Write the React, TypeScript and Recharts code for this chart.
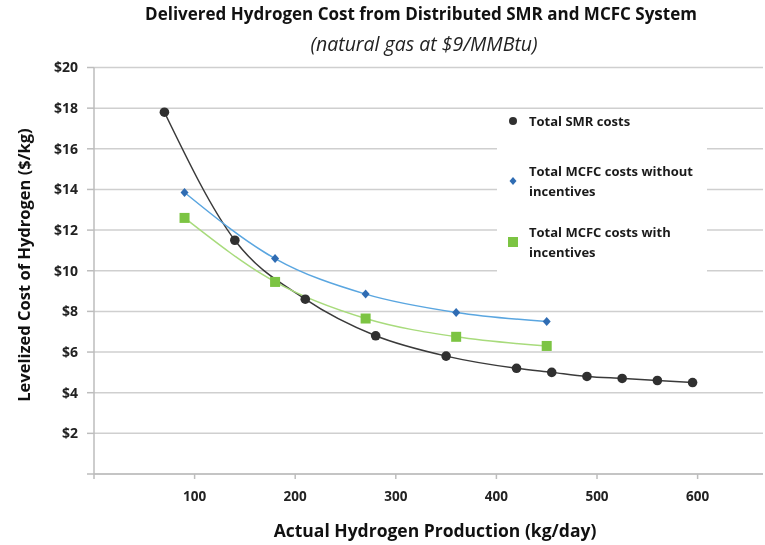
import { LineChart, Line, XAxis, YAxis, CartesianGrid, Legend } from 'recharts';

const SMR_OUTPUT = [70, 140, 210, 280, 350, 420, 455, 490, 525, 560, 595];
const SMR_COST = [17.8, 11.5, 8.6, 6.8, 5.8, 5.2, 5.0, 4.8, 4.7, 4.6, 4.5];
const MCFC_OUTPUT = [90, 180, 270, 360, 450];
const MCFC_NO_INCENTIVES = [13.85, 10.6, 8.85, 7.95, 7.5];
const MCFC_WITH_INCENTIVES = [12.6, 9.45, 7.65, 6.75, 6.3];

const X_TICKS = [0, 100, 200, 300, 400, 500, 600];
const Y_TICKS = [0, 2, 4, 6, 8, 10, 12, 14, 16, 18, 20];

const SERIES_NAMES = ['Total SMR costs', 'Total MCFC costs without incentives', 'Total MCFC costs with incentives'];

const FONT = '"Open Sans", Lato, sans-serif';

const smrData = SMR_OUTPUT.map((x, i) => ({ x, y: SMR_COST[i] }));
const noIncData = MCFC_OUTPUT.map((x, i) => ({ x, y: MCFC_NO_INCENTIVES[i] }));
const incData = MCFC_OUTPUT.map((x, i) => ({ x, y: MCFC_WITH_INCENTIVES[i] }));

const circleDot = (p: any) => (
  <circle key={`c-${p.index}`} cx={p.cx} cy={p.cy} r={4.8} fill="#303030" />
);

const diamondDot = (p: any) => (
  <path
    key={`d-${p.index}`}
    d={`M${p.cx},${p.cy - 4.5} L${p.cx + 4},${p.cy} L${p.cx},${p.cy + 4.5} L${p.cx - 4},${p.cy} Z`}
    fill="#2f6cb3"
  />
);

const squareDot = (p: any) => (
  <rect key={`s-${p.index}`} x={p.cx - 5} y={p.cy - 5} width={10} height={10} fill="#7cc443" />
);

const legendMarkers = [
  <svg width={12} height={12} key="m0"><circle cx={6} cy={6} r={4} fill="#303030" /></svg>,
  <svg width={12} height={12} key="m1"><path d="M6,2 L9.5,6 L6,10 L2.5,6 Z" fill="#2f6cb3" /></svg>,
  <svg width={12} height={12} key="m2"><rect x={1} y={1} width={10} height={10} fill="#7cc443" /></svg>,
];

const entryGaps = [11, 30, 21];

function LegendBox() {
  return (
    <div style={{ width: 210, height: 180, background: '#fff', fontFamily: FONT }}>
      {SERIES_NAMES.map((name, i) => (
        <div key={name} style={{ display: 'flex', alignItems: 'center', marginTop: entryGaps[i] }}>
          <div style={{ width: 32, display: 'flex', justifyContent: 'center' }}>
            {legendMarkers[i]}
          </div>
          <div style={{ width: 178, fontSize: 13, fontWeight: 700, lineHeight: '20px', color: '#1a1a1a' }}>
            {name}
          </div>
        </div>
      ))}
    </div>
  );
}

const overlay = { position: 'absolute' as const, zIndex: 2, whiteSpace: 'nowrap' as const };

export default function App() {
  return (
    <div style={{ position: 'fixed', left: 8, top: 8, width: 757, height: 537, fontFamily: FONT }}>
      <div
        style={{
          ...overlay, left: 413, top: 5, transform: 'translate(-50%, -50%)',
          fontSize: 17, fontWeight: 700, color: '#111',
        }}
      >
        Delivered Hydrogen Cost from Distributed SMR and MCFC System
      </div>
      <div
        style={{
          ...overlay, left: 416, top: 35, transform: 'translate(-50%, -50%)',
          fontSize: 19.5, fontStyle: 'italic', color: '#222',
        }}
      >
        (natural gas at $9/MMBtu)
      </div>
      <div
        style={{
          ...overlay, left: 15, top: 257, transform: 'translate(-50%, -50%) rotate(-90deg)',
          fontSize: 16.5, fontWeight: 700, color: '#111',
        }}
      >
        Levelized Cost of Hydrogen ($/kg)
      </div>
      <div
        style={{
          ...overlay, left: 427, top: 522, transform: 'translate(-50%, -50%)',
          fontSize: 17.5, fontWeight: 700, color: '#111',
        }}
      >
        Actual Hydrogen Production (kg/day)
      </div>

      <LineChart width={755} height={537} margin={{ top: 59.5, right: 0, left: 0, bottom: 41 }}>
        <CartesianGrid vertical={false} stroke="#cfcfcf" strokeWidth={1.5} />
        <XAxis
          type="number"
          dataKey="x"
          domain={[0, 665]}
          ticks={X_TICKS}
          tickFormatter={(v) => (v === 0 ? '' : String(v))}
          allowDuplicatedCategory={false}
          height={30}
          tickSize={5}
          tickMargin={12}
          axisLine={{ stroke: '#bdbdbd', strokeWidth: 1.5 }}
          tickLine={{ stroke: '#bdbdbd', strokeWidth: 1.5 }}
          tick={{ fontSize: 13.5, fontWeight: 700, fill: '#222', fontFamily: FONT }}
        />
        <YAxis
          type="number"
          domain={[0, 20]}
          ticks={Y_TICKS}
          tickFormatter={(v) => (v === 0 ? '' : `$${v}`)}
          width={86}
          tickSize={7}
          tickMargin={9}
          axisLine={{ stroke: '#bdbdbd', strokeWidth: 1.5 }}
          tickLine={{ stroke: '#bdbdbd', strokeWidth: 1.5 }}
          tick={{ fontSize: 14, fontWeight: 700, fill: '#222', fontFamily: FONT }}
        />
        <Legend
          layout="vertical"
          align="center"
          verticalAlign="middle"
          content={() => <LegendBox />}
          wrapperStyle={{ position: 'absolute', left: 489, top: 92, width: 210, height: 180 }}
        />
        <Line
          data={smrData}
          dataKey="y"
          name={SERIES_NAMES[0]}
          type="monotone"
          stroke="#3a3a3a"
          strokeWidth={1.5}
          dot={circleDot}
          activeDot={false}
          isAnimationActive={false}
        />
        <Line
          data={noIncData}
          dataKey="y"
          name={SERIES_NAMES[1]}
          type="monotone"
          stroke="#5aa6e0"
          strokeWidth={1.5}
          dot={diamondDot}
          activeDot={false}
          isAnimationActive={false}
        />
        <Line
          data={incData}
          dataKey="y"
          name={SERIES_NAMES[2]}
          type="monotone"
          stroke="#a8db7c"
          strokeWidth={1.5}
          dot={squareDot}
          activeDot={false}
          isAnimationActive={false}
        />
      </LineChart>
    </div>
  );
}
